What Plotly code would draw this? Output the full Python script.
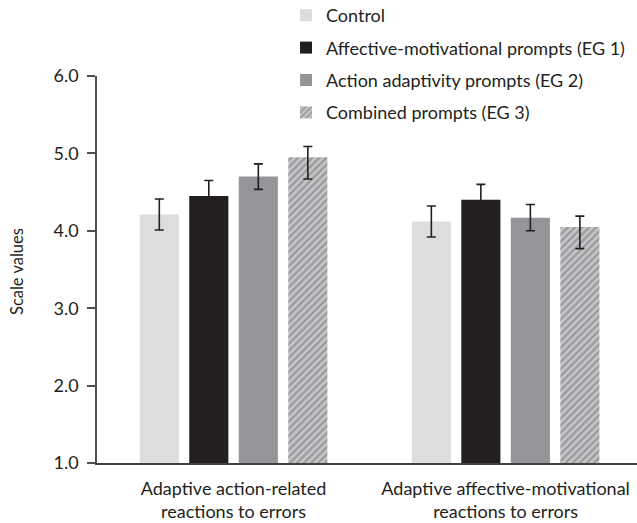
import plotly.graph_objects as go

# Outcome measures (x categories)
categories = [
    "Adaptive action-related<br>reactions to errors",
    "Adaptive affective-motivational<br>reactions to errors",
]

# Experimental conditions
conditions = [
    "Control",
    "Affective-motivational prompts (EG 1)",
    "Action adaptivity prompts (EG 2)",
    "Combined prompts (EG 3)",
]

# Mean scale values per condition (one value per category)
control_means = [4.21, 4.12]
eg1_means = [4.45, 4.40]
eg2_means = [4.70, 4.17]
eg3_means = [4.95, 4.05]

# Error bar extents (upper / lower)
control_err_plus = [0.20, 0.20]
control_err_minus = [0.20, 0.20]
eg1_err_plus = [0.20, 0.20]
eg1_err_minus = [0.20, 0.20]
eg2_err_plus = [0.165, 0.17]
eg2_err_minus = [0.165, 0.17]
eg3_err_plus = [0.14, 0.14]
eg3_err_minus = [0.28, 0.28]

y_ticks = [1.0, 2.0, 3.0, 4.0, 5.0, 6.0]

series = [
    (control_means, control_err_plus, control_err_minus, "#dcdddf", None),
    (eg1_means, eg1_err_plus, eg1_err_minus, "#231f20", None),
    (eg2_means, eg2_err_plus, eg2_err_minus, "#939598", None),
    (eg3_means, eg3_err_plus, eg3_err_minus, "#c4c5c7", "/"),
]

FONT = "Lato, 'Open Sans', sans-serif"
INK = "#231f20"

W, H = 637, 523
ML, MR, MT, MB = 97, 0, 76, 60

fig = go.Figure()
for i, (name, (vals, ep, em, color, pat)) in enumerate(zip(conditions, series)):
    marker = dict(color=color, line=dict(width=0))
    if pat:
        marker["pattern"] = dict(shape=pat, fgcolor="#6d6e71", bgcolor="#c4c5c7",
                                 size=5, solidity=0.45)
    fig.add_trace(go.Bar(
        name=name,
        x=categories,
        y=vals,
        marker=marker,
        legendgroup=f"g{i}",
        error_y=dict(type="data", symmetric=False, array=ep, arrayminus=em,
                     color=INK, thickness=1.6, width=4.5),
    ))

# y-axis title, placed in the left margin
plot_w = W - ML - MR
plot_h = H - MT - MB
fig.add_annotation(
    text="Scale values",
    xref="paper", yref="paper",
    x=(17 - ML) / plot_w, y=(H - MB - 272) / plot_h,
    xanchor="center", yanchor="middle",
    textangle=-90, showarrow=False,
    font=dict(family=FONT, size=16.5, color=INK),
)

fig.update_layout(
    width=W,
    height=H,
    paper_bgcolor="white",
    plot_bgcolor="white",
    margin=dict(l=ML, r=MR, t=MT, b=MB, autoexpand=False),
    barmode="group",
    bargap=0.272,
    bargroupgap=0.21,
    font=dict(family=FONT, size=18, color=INK),
    showlegend=True,
    legend=dict(
        x=(286 - ML) / plot_w, y=(H - MB + 3) / plot_h, xref="paper", yref="paper",
        xanchor="left", yanchor="top",
        font=dict(family=FONT, size=18, color=INK),
        tracegroupgap=6,
        itemwidth=30,
        bgcolor="rgba(0,0,0,0)",
    ),
    xaxis=dict(
        range=[-0.502, 1.483],
        showline=True, linecolor="#404040", linewidth=2,
        ticks="outside", ticklen=8, tickcolor="rgba(0,0,0,0)",
        showgrid=False, zeroline=False,
        tickangle=0,
        tickfont=dict(family=FONT, size=18, color=INK),
    ),
    yaxis=dict(
        range=[1, 6],
        tickvals=y_ticks,
        ticktext=[f"{v:.1f}" for v in y_ticks],
        showline=True, linecolor="#505050", linewidth=1.5,
        ticks="outside", ticklen=8, tickcolor="#505050", tickwidth=1.5,
        ticklabelstandoff=5,
        showgrid=False, zeroline=False,
        tickfont=dict(family=FONT, size=18, color=INK),
    ),
)

fig.write_html("out.html")
